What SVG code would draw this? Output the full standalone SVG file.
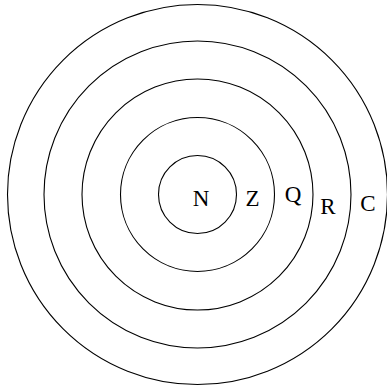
<svg xmlns="http://www.w3.org/2000/svg" width="387" height="390" viewBox="0 0 387 390">
<style>
.ring{fill:none;stroke:#000;stroke-width:1.1}
.lbl{font-size:23px;fill:#000;text-anchor:middle}
</style>
<rect width="387" height="390" fill="#fff"/>
<g id="rings">
<circle id="ring-N" class="ring" cx="197.5" cy="194.5" r="39"/>
<circle id="ring-Z" class="ring" cx="197.5" cy="194.5" r="77"/>
<circle id="ring-Q" class="ring" cx="197.5" cy="194.5" r="115.5"/>
<circle id="ring-R" class="ring" cx="197.5" cy="194.5" r="153.5"/>
<circle id="ring-C" class="ring" cx="197.5" cy="194.5" r="190"/>
</g>
<g id="labels" font-family="'Liberation Serif', 'DejaVu Serif', serif">
<text id="N" class="lbl" x="201" y="205.5">N</text>
<text id="Z" class="lbl" x="252.5" y="205.5">Z</text>
<text id="Q" class="lbl" x="293" y="201.5">Q</text>
<text id="R" class="lbl" x="328" y="214">R</text>
<text id="C" class="lbl" x="368" y="211">C</text>
</g>
</svg>
